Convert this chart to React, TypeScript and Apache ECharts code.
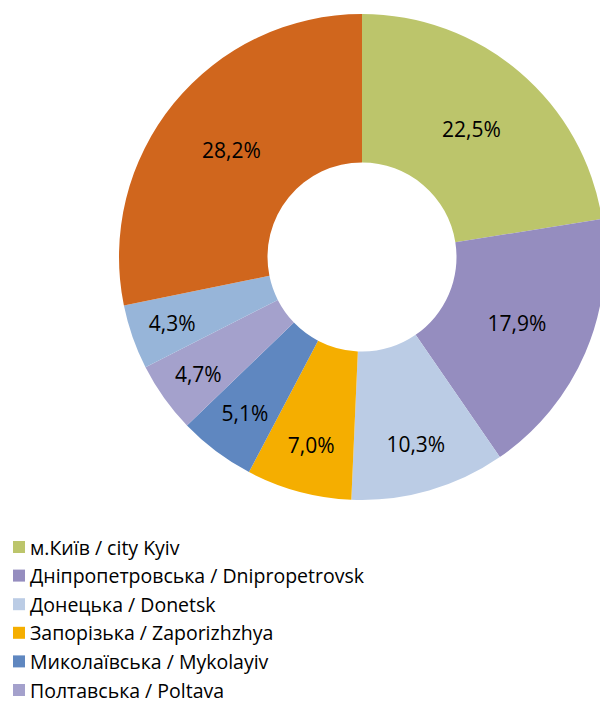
import React, { useEffect, useRef } from "react";
import * as echarts from "echarts";

const categories = [
  "м.Київ / city Kyiv",
  "Дніпропетровська / Dnipropetrovsk",
  "Донецька / Donetsk",
  "Запорізька / Zaporizhzhya",
  "Миколаївська / Mykolayiv",
  "Полтавська / Poltava",
  "Харківська / Kharkiv",
  "Інші регіони / Other regions",
];
const shares = [22.5, 17.9, 10.3, 7.0, 5.1, 4.7, 4.3, 28.2];
const legendShown = categories.slice(0, 6);
const colors = [
  "#BCC56B",
  "#958DBF",
  "#BBCCE5",
  "#F5AE00",
  "#5F87C0",
  "#A4A1CC",
  "#97B5D9",
  "#D0661D",
];

const CX = 362;
const CY = 257;
const R_IN = 94.5;
const R_OUT = 243;
const FONT = "'Open Sans', 'Noto Sans', sans-serif";

export default function App() {
  const ref = useRef<HTMLDivElement>(null);
  useEffect(() => {
    if (!ref.current) return;
    const chart = echarts.init(ref.current, undefined, { renderer: "svg" });
    chart.setOption({
      animation: false,
      color: colors,
      legend: {
        orient: "vertical",
        left: 13,
        top: 537,
        height: 220,
        padding: 0,
        icon: "rect",
        itemWidth: 12,
        itemHeight: 12,
        itemGap: 8.6,
        textStyle: { fontFamily: FONT, fontSize: 19.5, lineHeight: 20, color: "#000" },
        data: legendShown,
      },
      series: [
        {
          type: "pie",
          center: [CX, CY],
          radius: [R_IN, R_OUT],
          startAngle: 90,
          clockwise: true,
          avoidLabelOverlap: false,
          label: {
            show: true,
            position: "inside",
            fontFamily: FONT,
            fontSize: 21,
            color: "#000",
            formatter: (p: any) => p.value.toFixed(1).replace(".", ",") + "%",
          },
          labelLayout: (params: any) => {
            const v = shares[params.dataIndex];
            const lr = params.labelRect;
            const lx = lr.x + lr.width / 2;
            const ly = lr.y + lr.height / 2;
            const dx = lx - CX;
            const dy = ly - CY;
            const d = Math.sqrt(dx * dx + dy * dy) || 1;
            const target = v > 15 ? 168.5 : v < 5 ? 201 : 195;
            return { x: CX + (dx / d) * target, y: CY + (dy / d) * target };
          },
          labelLine: { show: false },
          emphasis: { disabled: true },
          data: categories.map((name, i) => ({ name, value: shares[i] })),
        },
      ],
    });
    return () => chart.dispose();
  }, []);
  return (
    <div
      ref={ref}
      style={{ position: "absolute", left: 0, top: 0, width: 600, height: 702, background: "#fff" }}
    />
  );
}
